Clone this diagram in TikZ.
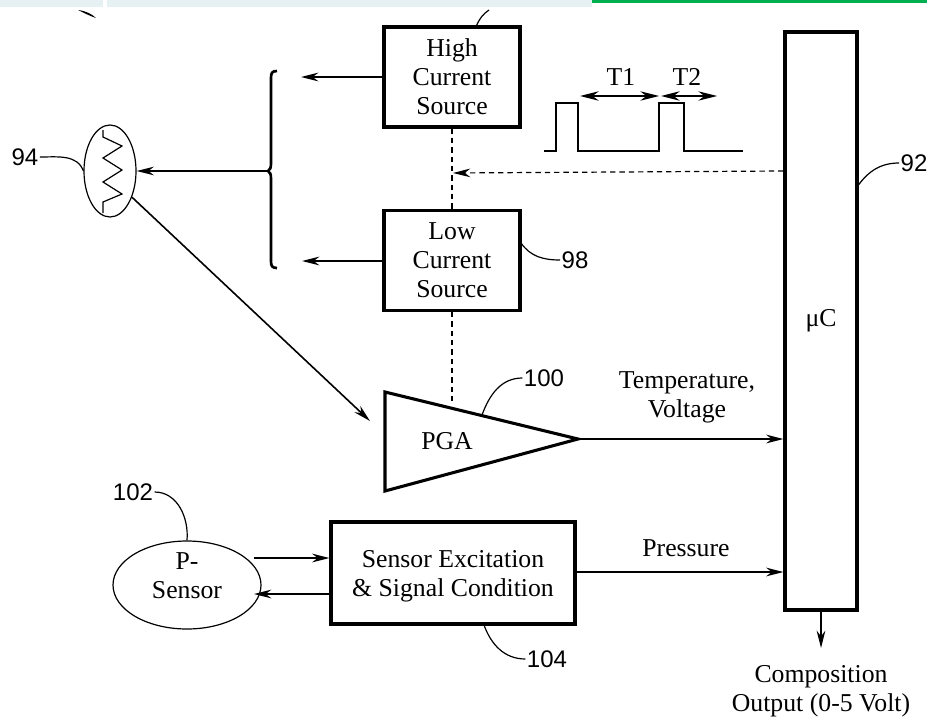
\documentclass[tikz,border=0pt]{standalone}
\usepackage{fontspec}
\setmainfont{Liberation Serif}
\newfontfamily\numfont{Liberation Sans}
\usetikzlibrary{arrows.meta,shapes.geometric}
\definecolor{stripblue}{HTML}{E6F1F3}
\definecolor{stripgreen}{HTML}{00B050}
\begin{document}
\begin{tikzpicture}[
        x=0.75pt, y=0.75pt,
        font=\fontsize{19.3}{21.75}\selectfont,
        box/.style={rectangle, draw, line width=2.3pt, align=center, inner sep=0pt},
        oval/.style={ellipse, draw, line width=0.9pt, align=center, inner sep=0pt},
        num/.style={font=\fontsize{18}{20}\selectfont\numfont, inner sep=1pt},
        txt/.style={align=center, inner sep=0pt},
        arrow/.style={-{Stealth[length=13pt,width=6.5pt]}, line width=1.2pt},
        twoway/.style={{Stealth[length=14pt,width=7pt]}-{Stealth[length=14pt,width=7pt]}, line width=1.1pt},
        lead/.style={line width=0.9pt},
        link/.style={line width=0.9pt, dash pattern=on 4pt off 3pt}
    ]
        \useasboundingbox (0,-717) rectangle (927,0);

        % Strip along the top edge
        \fill[stripblue] (0,0) rectangle (103,-7);
        \fill[stripblue] (107,0) rectangle (592,-7);
        \fill[stripgreen] (592,0) rectangle (927,-3);
        \fill (78,-10) .. controls (86,-11) and (92,-14) .. (96,-18) .. controls (90,-16) and (84,-13) .. (78,-10) -- cycle;
        \draw[lead] (476,-27) .. controls (479,-19) and (483,-14) .. (489,-10);

        % Current sources
        \node[box, minimum width=102pt, minimum height=75pt] (high) at (452,-77) {High\\Current\\Source};
        \node[box, minimum width=102pt, minimum height=75pt] (low) at (452,-260.5) {Low\\Current\\Source};

        % Controller
        \node[box, minimum width=54pt, minimum height=433.5pt] (uc) at (821,-321) {μC};

        % Amplifier
        \coordinate (amptop) at (385,-392);
        \coordinate (ampbot) at (385,-491);
        \coordinate (amptip) at (578,-439);
        \draw[line width=2.3pt] (amptop) -- (amptip) -- (ampbot) -- cycle;
        \node[txt] (pgatext) at (447,-441) {PGA};

        % Pressure side
        \node[box, minimum width=183pt, minimum height=76.5pt] (excite) at (453,-573) {};
        \node[txt] (excitetext) at (453,-576) {Sensor Excitation\\\& Signal Condition};
        \node[oval, minimum width=111pt, minimum height=66pt] (psensor) at (187,-585) {};
        \node[txt] (psensortext) at (187,-576) {P-\\Sensor};

        % Thermistor
        \node[oval, minimum width=39pt, minimum height=69pt] (therm) at (110,-171) {};
        \draw[lead] (103,-130) -- (103,-137) -- (122,-146) -- (103,-158) -- (122,-170) -- (103,-182) -- (122,-194) -- (103,-202) -- (103,-213);

        % Brace
        \coordinate (bracetip) at (268,-171);
        \draw[line width=2pt] (277,-71) .. controls (272,-71) and (271,-73) .. (271,-78) -- (271,-163) .. controls (271,-168) and (270,-170) .. (bracetip) .. controls (270,-172) and (271,-174) .. (271,-179) -- (271,-261) .. controls (271,-266) and (272,-268) .. (277,-268);

        % Free ends
        \coordinate (highend) at (301,-77);
        \coordinate (lowend) at (302,-261);
        \coordinate (ampin) at (370,-421);
        \coordinate (linkjoin) at (453,-173);
        \coordinate (compend) at (821,-648);

        % Arrows
        \draw[arrow] (high.west |- highend) -- (highend);
        \draw[arrow] (low.west |- lowend) -- (lowend);
        \draw[arrow] (bracetip) -- (therm.east |- bracetip);
        \draw[arrow] (therm.-50) -- (ampin);
        \draw[arrow] (amptip) -- (uc.west |- amptip);
        \draw[arrow] (excite.east |- 0,-572) -- (uc.west |- 0,-572);
        \draw[arrow] (psensor.east |- 0,-558) ++(-8,0) -- (excite.west |- 0,-558);
        \draw[arrow] (excite.west |- 0,-594) -- (254,-594);
        \draw[arrow] (uc.south) -- (compend);

        % Dashed links
        \draw[link] (high.south) -- (low.north);
        \draw[link] (low.south) -- (452,-405);
        \draw[link, -{Stealth[length=13pt,width=6.5pt]}] (uc.west |- 0,-171) -- (linkjoin);

        % Pulse train
        \draw[line width=1.1pt] (544,-151) -- (556,-151) -- (556,-103) -- (578,-103) -- (578,-151) -- (659,-151) -- (659,-103) -- (684,-103) -- (684,-151) -- (743,-151);
        \coordinate (t1a) at (580,-96);
        \coordinate (t1b) at (659,-96);
        \coordinate (t2a) at (661,-96);
        \coordinate (t2b) at (717,-96);
        \draw[twoway] (t1a) -- (t1b);
        \draw[twoway] (t2a) -- (t2b);
        \node[txt] (t1) at (621,-77) {T1};
        \node[txt] (t2) at (687,-77) {T2};

        % Signal labels
        \node[txt] (temp) at (687,-397) {Temperature,\\Voltage};
        \node[txt] (press) at (686,-548) {Pressure};
        \node[txt] (comp) at (821,-691) {Composition\\Output (0-5 Volt)};

        % Reference numbers
        \node[num] (n94) at (25,-157) {94};
        \node[num] (n92) at (914,-163) {92};
        \node[num] (n98) at (575,-260) {98};
        \node[num] (n100) at (544,-378) {100};
        \node[num] (n102) at (133,-492) {102};
        \node[num] (n104) at (547,-659) {104};
        \draw[lead] (n94.east) to[out=0, in=110] (therm.west);
        \draw[lead] (n92.west) to[out=180, in=55] (857,-187);
        \draw[lead] (n98.west) to[out=180, in=-55] (521,-243);
        \draw[lead] (n100.west) to[out=180, in=70] (482,-415);
        \draw[lead] (n102.east) to[out=0, in=85] (psensor.north);
        \draw[lead] (n104.west) to[out=180, in=-70] (484,-625);
    \end{tikzpicture}
\end{document}
